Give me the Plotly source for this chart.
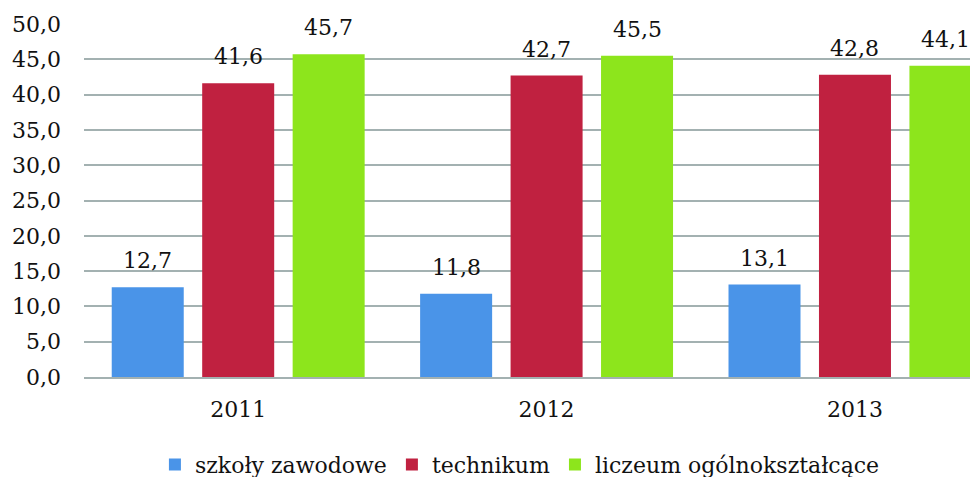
import plotly.graph_objects as go

years = ["2011", "2012", "2013"]
series_names = ["szkoły zawodowe", "technikum", "liczeum ogólnokształcące"]
szkoly_zawodowe = [12.7, 11.8, 13.1]
technikum = [41.6, 42.7, 42.8]
liceum = [45.7, 45.5, 44.1]
colors = ["#4a94e8", "#c02140", "#8de51c"]
y_ticks = [0, 5, 10, 15, 20, 25, 30, 35, 40, 45, 50]

FONT = "DejaVu Serif"
FS = 22
values = [szkoly_zawodowe, technikum, liceum]
bargap = 0.12

def fmt(v):
    return f"{v:.1f}".replace(".", ",")

fig = go.Figure()
for name, vals, col in zip(series_names, values, colors):
    fig.add_trace(go.Bar(
        x=years, y=vals, name=name,
        marker=dict(color=col, line=dict(width=0)),
    ))

slot = (1 - bargap) / len(values)
annotations = []
for i, vals in enumerate(values):
    for j, v in enumerate(vals):
        annotations.append(dict(
            x=j + (i - 1) * slot, y=v, xref="x", yref="y",
            text=fmt(v), showarrow=False, yanchor="bottom", yshift=12,
            font=dict(family=FONT, size=FS, color="#111111"),
        ))

fig.update_layout(
    width=970, height=477,
    margin=dict(l=84, r=0, t=24, b=100, autoexpand=False),
    paper_bgcolor="white", plot_bgcolor="white",
    barmode="group", bargap=bargap, bargroupgap=0.204,
    font=dict(family=FONT, size=FS, color="#111111"),
    showlegend=True,
    legend=dict(orientation="h", xref="container", x=0.536, xanchor="center",
                yref="container", y=0.026, yanchor="middle",
                font=dict(family=FONT, size=FS, color="#111111")),
    annotations=annotations,
    xaxis=dict(type="category", range=[-0.5, 2.373], showgrid=False,
               showline=True, linecolor="#a3b1b1", linewidth=2,
               ticks="", ticklabelstandoff=12,
               tickfont=dict(family=FONT, size=FS, color="#111111")),
    yaxis=dict(range=[0, 50], tickvals=y_ticks, ticktext=[fmt(t) for t in y_ticks],
               showgrid=True, gridcolor="#a3b1b1", gridwidth=2,
               zeroline=False, showline=False, ticks="", ticklabelstandoff=22,
               tickfont=dict(family=FONT, size=FS, color="#111111")),
)

fig.write_html(
    "out.html",
    config={"displayModeBar": False},
    post_script="document.body.style.margin='0';document.documentElement.style.overflow='hidden';",
)
